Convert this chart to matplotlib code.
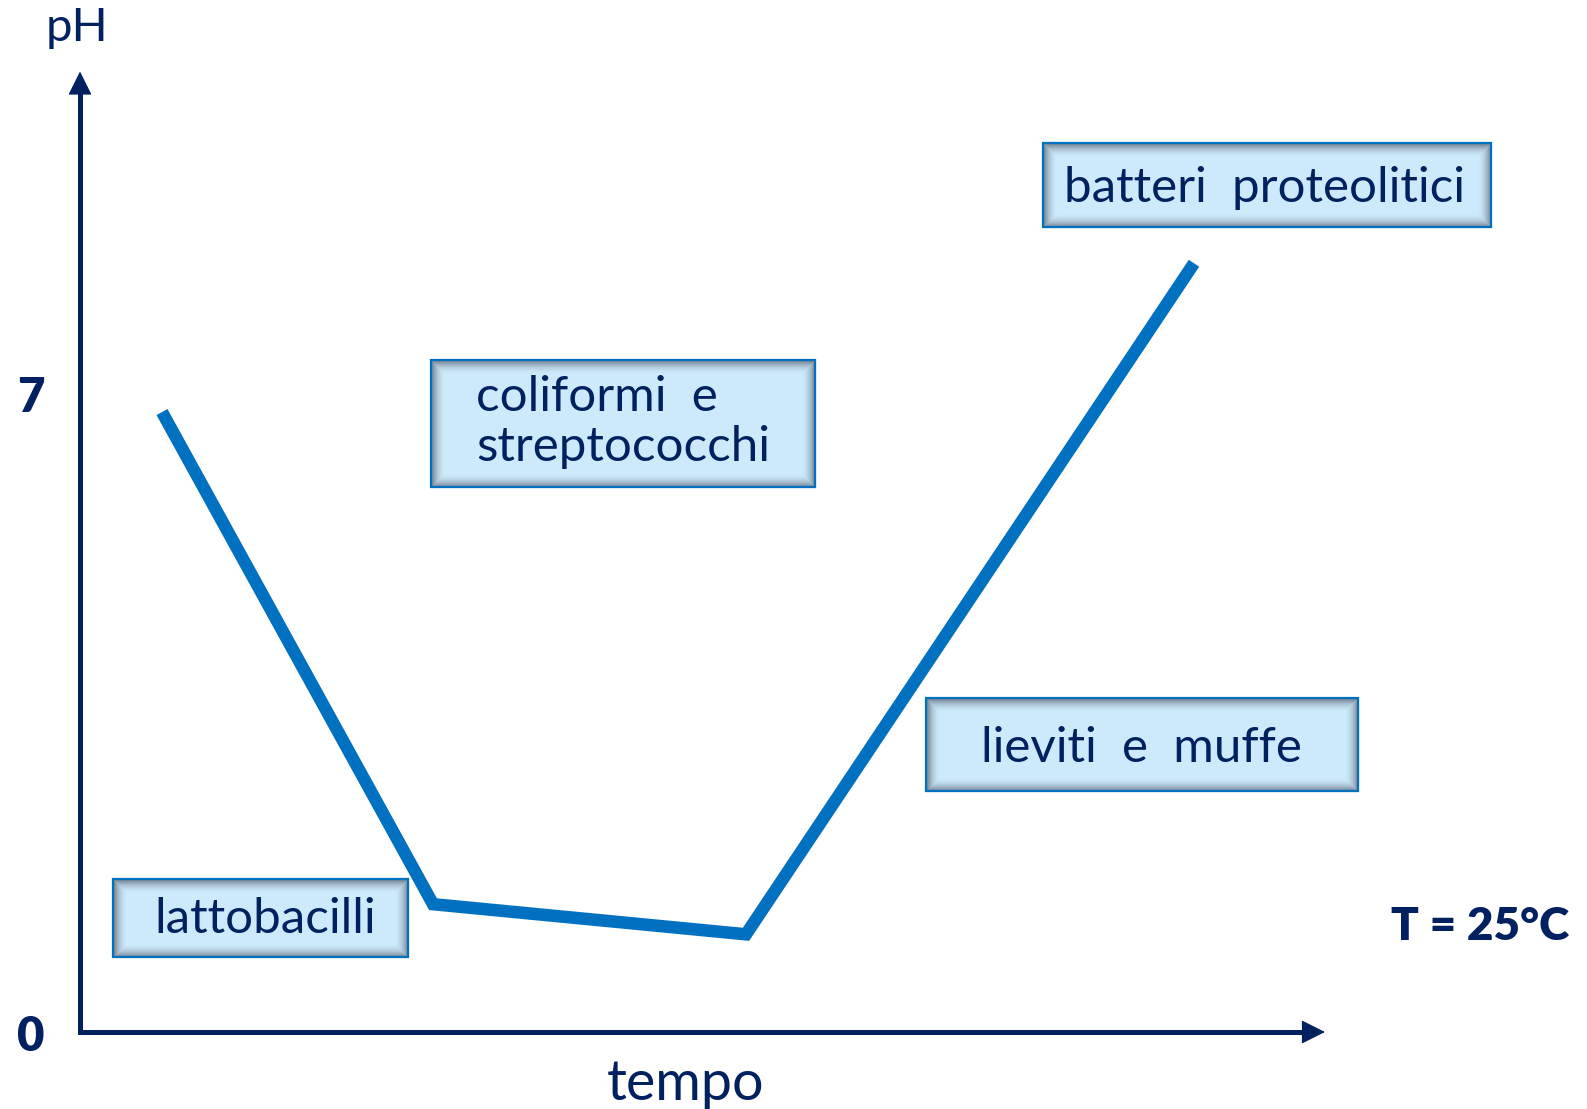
import numpy as np
import matplotlib
matplotlib.use("Agg")
import matplotlib.pyplot as plt
from matplotlib.patches import Rectangle

# curve of pH vs time (arbitrary time units)
tempo = [0.82, 3.53, 6.66, 11.14]
ph = [6.79, 1.40, 1.07, 8.42]

ph_ticks = [0, 7]
ph_tick_labels = ["0", "7"]

box_labels = ["batteri  proteolitici", "coliformi  e\nstreptococchi", "lieviti  e  muffe", "lattobacilli"]

NAVY = "#002060"
BLUE = "#0070C0"
FILL = "#CCEAFB"
FONT = ["Lato", "DejaVu Sans"]

W, H = 1587, 1109
fig = plt.figure(figsize=(W / 100, H / 100), dpi=100)

# data axes, mapped so that px_x = 80 + 100 t and px_y = 1032 - 91.3 pH
ax = fig.add_axes([0, 0, 1, 1])
ax.set_xlim((0 - 80) / 100, (W - 80) / 100)
ax.set_ylim((1032 - H) / 91.3, 1032 / 91.3)
ax.axis("off")

# overlay in pixel units for the label boxes
ov = fig.add_axes([0, 0, 1, 1], zorder=3)
ov.set_xlim(0, W)
ov.set_ylim(H, 0)
ov.axis("off")

# axes with arrows
ax.plot([0, 0, 12.22], [10.35, 0, 0], color=NAVY, lw=3.6,
        solid_joinstyle="miter", solid_capstyle="butt", zorder=2)
head = "-|>,head_length=1.0,head_width=0.5"
ax.annotate("", xy=(0, 10.52), xytext=(0, 10.3),
            arrowprops=dict(arrowstyle=head, mutation_scale=15,
                            color=NAVY, lw=1, shrinkA=0, shrinkB=0))
ax.annotate("", xy=(12.45, 0), xytext=(12.2, 0),
            arrowprops=dict(arrowstyle=head, mutation_scale=15,
                            color=NAVY, lw=1, shrinkA=0, shrinkB=0))

for v, lab in zip(ph_ticks, ph_tick_labels):
    ax.text(-0.49, v - 0.06, lab, ha="center", va="center", fontsize=34,
            fontweight="heavy", color=NAVY, family=FONT)

ax.plot(tempo, ph, color=BLUE, lw=9, solid_joinstyle="miter",
        solid_capstyle="butt", zorder=2)

ov.text(77, 28, "pH", ha="center", va="center", fontsize=34, color=NAVY, family=FONT)
ov.text(685, 1084, "tempo", ha="center", va="center", fontsize=40, color=NAVY, family=FONT)
ov.text(1480, 926, "T = 25°C", ha="center", va="center", fontsize=33,
        fontweight="heavy", color=NAVY, family=FONT)


def box(x0, y0, x1, y1):
    ov.add_patch(Rectangle((x0, y0), x1 - x0, y1 - y0, facecolor=FILL,
                           edgecolor="none", zorder=3))
    # soft inner shadow
    n = 14
    for i in range(n):
        a = 0.7 * (1 - i / n) ** 2
        ov.add_patch(Rectangle((x0 + i, y0 + i), x1 - x0 - 2 * i, y1 - y0 - 2 * i,
                               facecolor="none", edgecolor=(0.3, 0.32, 0.38, a),
                               lw=0.8, zorder=4))
    ov.add_patch(Rectangle((x0, y0), x1 - x0, y1 - y0, facecolor="none",
                           edgecolor=BLUE, lw=1.6, zorder=5))


box(1043, 143, 1491, 227)
box(431, 360, 815, 487)
box(926, 698, 1358, 791)
box(113, 879, 408, 957)

fs = 35.5
ov.text(1265, 188, box_labels[0], ha="center", va="center", fontsize=fs,
        color=NAVY, family=FONT, zorder=6)
ov.text(476, 422, box_labels[1], ha="left", va="center", fontsize=fs,
        color=NAVY, family=FONT, linespacing=1.17, zorder=6)
ov.text(1141, 748, box_labels[2], ha="center", va="center", fontsize=fs,
        color=NAVY, family=FONT, zorder=6)
ov.text(265, 919, box_labels[3], ha="center", va="center", fontsize=fs,
        color=NAVY, family=FONT, zorder=6)

fig.savefig("out.png", dpi=100)
